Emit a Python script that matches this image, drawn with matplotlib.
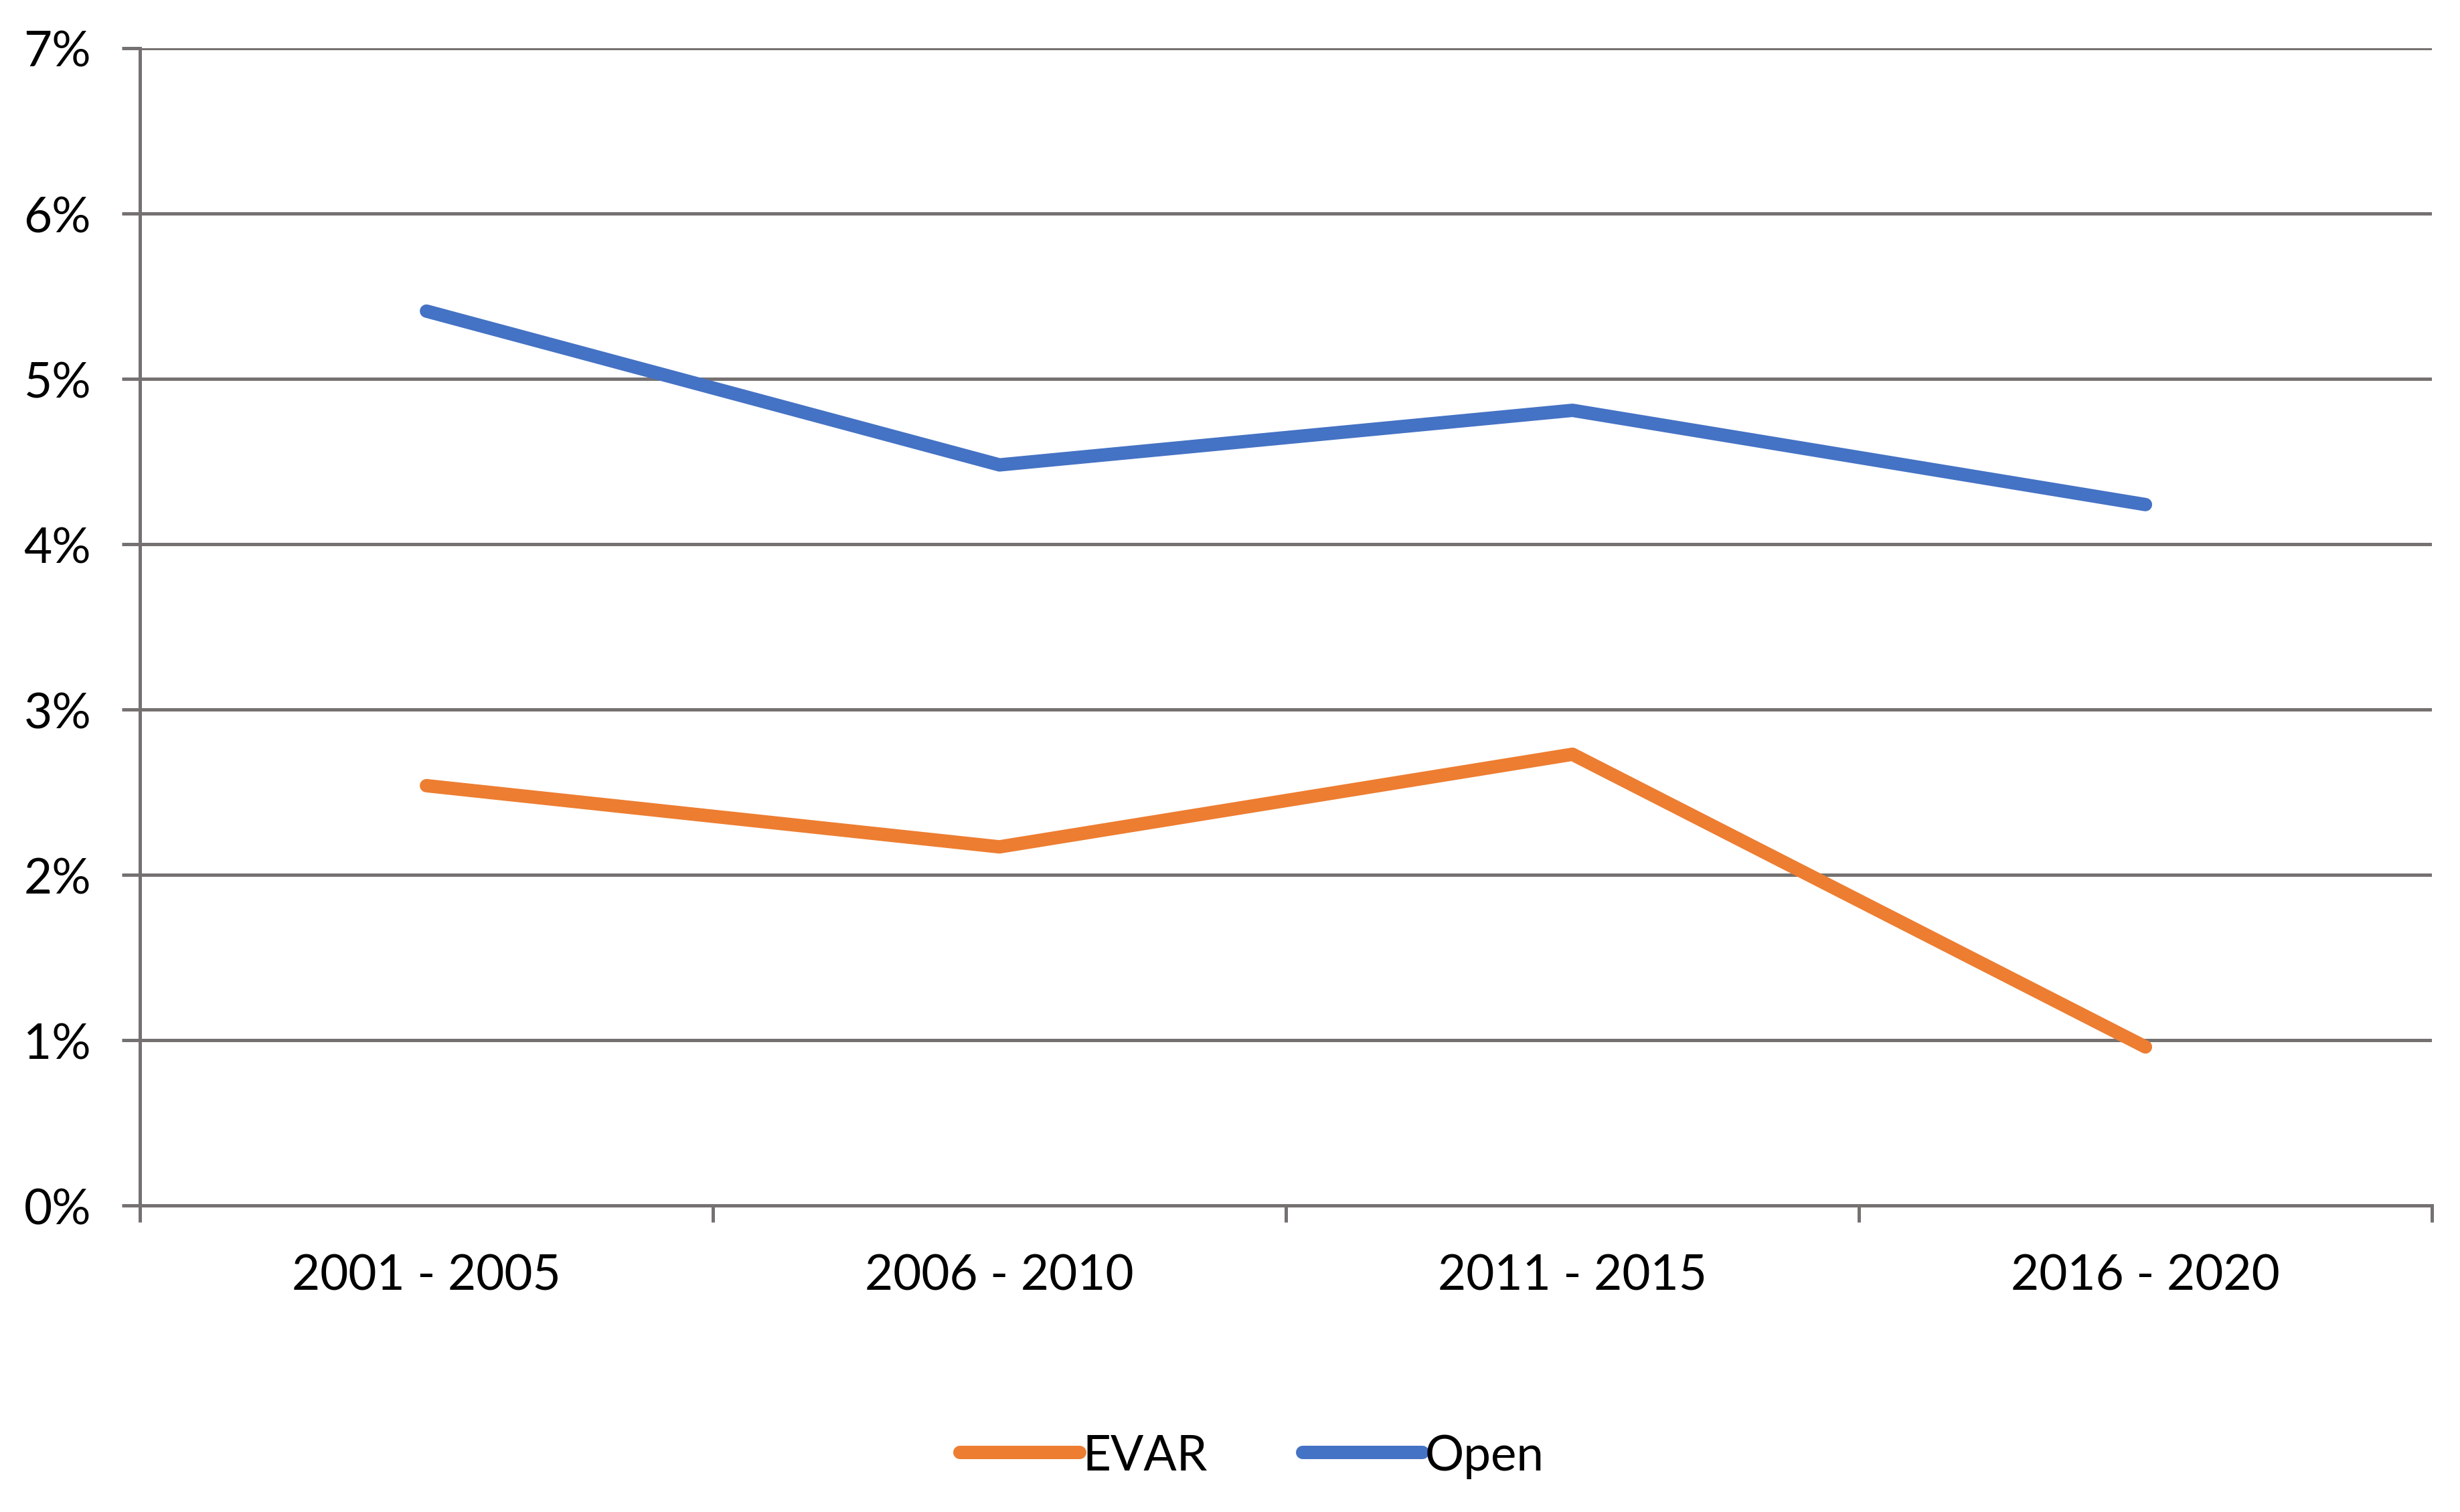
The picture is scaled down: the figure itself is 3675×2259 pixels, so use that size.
import matplotlib
matplotlib.use("Agg")
import matplotlib.pyplot as plt
from matplotlib.ticker import FuncFormatter

periods = ["2001 - 2005", "2006 - 2010", "2011 - 2015", "2016 - 2020"]
evar = [2.54, 2.17, 2.73, 0.96]
open_repair = [5.41, 4.48, 4.81, 4.24]

plt.rcParams['font.family'] = ['Lato', 'DejaVu Sans']

grid_col = '#767171'
fig = plt.figure(figsize=(12.25, 7.5333), dpi=300)
ax = fig.add_axes([0.0569, 0.2025, 0.9317, 0.7652])

x = [i + 0.5 for i in range(len(periods))]
ax.plot(x, evar, color='#ED7D31', lw=4.8, solid_capstyle='round',
        solid_joinstyle='round', label='EVAR', zorder=3)
ax.plot(x, open_repair, color='#4472C4', lw=4.8, solid_capstyle='round',
        solid_joinstyle='round', label='Open', zorder=3)

ax.set_xlim(0, len(periods))
ax.set_ylim(0, 7)
ax.set_yticks(range(0, 8))
ax.yaxis.set_major_formatter(FuncFormatter(lambda v, p: '%d%%' % v))
ax.set_xticks(range(0, len(periods) + 1))
ax.set_xticklabels([])
ax.set_xticks(x, minor=True)
ax.set_xticklabels(periods, minor=True)
ax.tick_params(axis='x', which='minor', length=0, pad=17, labelsize=17.5)
ax.tick_params(axis='x', which='major', length=6, width=1.2, color=grid_col,
               direction='out')
ax.tick_params(axis='y', length=6.5, width=1.2, color=grid_col, pad=11,
               labelsize=17.5)

ax.grid(axis='y', color=grid_col, lw=1.2, zorder=0)
for s in ['top', 'right']:
    ax.spines[s].set_visible(False)
for s in ['left', 'bottom']:
    ax.spines[s].set_color(grid_col)
    ax.spines[s].set_linewidth(1.2)

fig.legend(loc='center', bbox_to_anchor=(0.509, 0.037), ncol=2, frameon=False,
           fontsize=17.5, handlelength=2.45, handletextpad=0.06,
           columnspacing=1.95)

fig.savefig('out.png', dpi=300, facecolor='white')
